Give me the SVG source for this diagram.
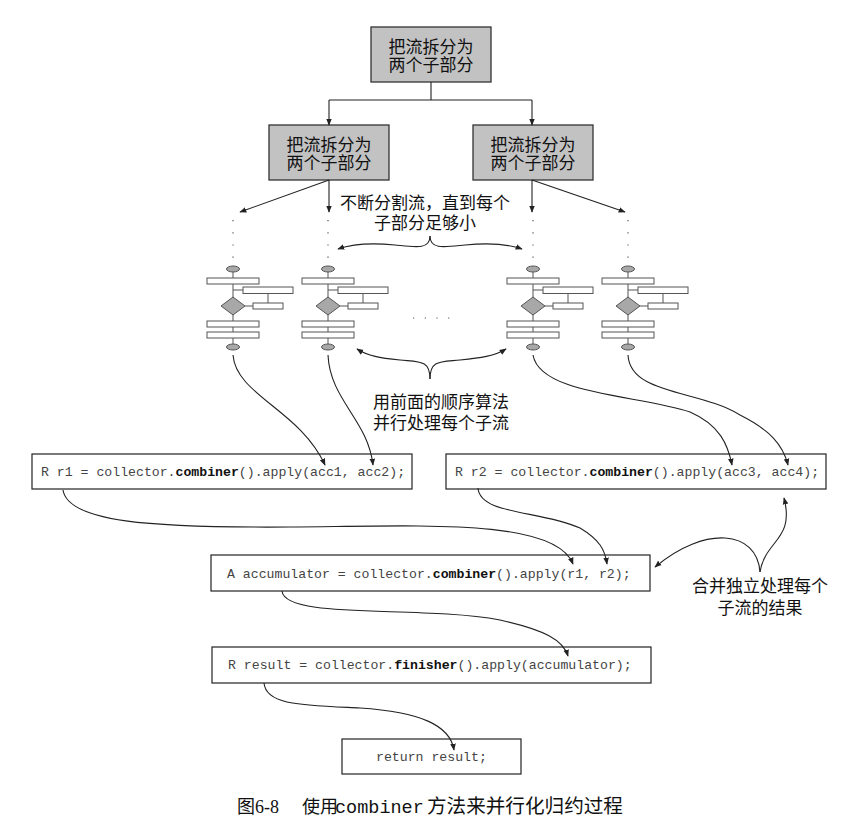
<svg xmlns="http://www.w3.org/2000/svg" xmlns:xlink="http://www.w3.org/1999/xlink" width="868" height="834" viewBox="0 0 868 834">
<style>
.bg{fill:#fff}
.gbox{fill:#c2c2c2;stroke:#333;stroke-width:1.3}
.cbox{fill:#fff;stroke:#222;stroke-width:1.2}
.cn{font-family:"Liberation Serif","Noto Sans CJK SC",serif;font-size:17px;fill:#111;text-anchor:middle}
.code{font-family:"Liberation Mono",monospace;font-size:13.2px;fill:#444}
.code tspan.b{font-weight:bold;fill:#111}
.ln{fill:none;stroke:#222;stroke-width:1.1}
.arr{fill:none;stroke:#222;stroke-width:1.1;marker-end:url(#ah)}
.dots{fill:none;stroke:#555;stroke-width:1.2;stroke-dasharray:1.2 11}
.fr{fill:#fff;stroke:#555;stroke-width:1}
.fg{fill:#a8a8a8;stroke:#555;stroke-width:1}
.fl{stroke:#555;stroke-width:1}
</style>
<defs>
<marker id="ah" viewBox="0 0 10 10" refX="9" refY="5" markerWidth="7" markerHeight="7" markerUnits="userSpaceOnUse" orient="auto">
<path d="M0,1 L10,5 L0,9 Z" fill="#222"/>
</marker>
<g id="flow">
<line class="fl" x1="0" y1="3" x2="0" y2="75"/>
<ellipse class="fg" cx="0" cy="0" rx="6.5" ry="3"/>
<rect class="fr" x="-26" y="9" width="52" height="6"/>
<line class="fl" x1="0" y1="21" x2="10" y2="21"/>
<line class="fl" x1="35" y1="24.5" x2="35" y2="34"/>
<rect class="fr" x="10" y="18" width="50" height="6.5"/>
<line class="fl" x1="12" y1="37" x2="20" y2="37"/>
<polygon class="fg" points="0,28 12,37 0,46 -12,37"/>
<rect class="fr" x="20" y="34" width="30" height="6"/>
<rect class="fr" x="-26" y="52" width="52" height="6"/>
<rect class="fr" x="-26" y="63" width="52" height="6"/>
<ellipse class="fg" cx="0" cy="78" rx="6.5" ry="3"/>
</g>
</defs>
<rect class="bg" x="0" y="0" width="868" height="834"/>

<g id="split-top">
<rect class="gbox" x="371" y="27" width="120" height="55"/>
<text class="cn" x="431" y="53">把流拆分为</text>
<text class="cn" x="431" y="71">两个子部分</text>
</g>
<g id="split-left">
<rect class="gbox" x="269" y="125" width="120" height="55"/>
<text class="cn" x="329" y="151">把流拆分为</text>
<text class="cn" x="329" y="169">两个子部分</text>
</g>
<g id="split-right">
<rect class="gbox" x="473" y="125" width="120" height="55"/>
<text class="cn" x="533" y="151">把流拆分为</text>
<text class="cn" x="533" y="169">两个子部分</text>
</g>

<g id="label-split">
<text class="cn" x="425" y="209">不断分割流，直到每个</text>
<text class="cn" x="425" y="229">子部分足够小</text>
</g>

<g id="flow1"><use xlink:href="#flow" href="#flow" x="233" y="269"/></g>
<g id="flow2"><use xlink:href="#flow" href="#flow" x="328" y="269"/></g>
<g id="flow3"><use xlink:href="#flow" href="#flow" x="533" y="269"/></g>
<g id="flow4"><use xlink:href="#flow" href="#flow" x="628" y="269"/></g>

<g id="label-seq">
<text class="cn" x="441" y="408">用前面的顺序算法</text>
<text class="cn" x="441" y="429">并行处理每个子流</text>
</g>

<g id="box-r1">
<rect class="cbox" x="32" y="454" width="380" height="35"/>
<text class="code" x="41" y="476">R r1 = collector.<tspan class="b">combiner</tspan>().apply(acc1, acc2);</text>
</g>
<g id="box-r2">
<rect class="cbox" x="446" y="454" width="380" height="35"/>
<text class="code" x="455" y="476">R r2 = collector.<tspan class="b">combiner</tspan>().apply(acc3, acc4);</text>
</g>
<g id="box-acc">
<rect class="cbox" x="211" y="555" width="439" height="36"/>
<text class="code" x="227" y="578">A accumulator = collector.<tspan class="b">combiner</tspan>().apply(r1, r2);</text>
</g>
<g id="label-merge">
<text class="cn" x="760" y="592">合并独立处理每个</text>
<text class="cn" x="760" y="614">子流的结果</text>
</g>
<g id="box-result">
<rect class="cbox" x="212" y="647" width="439" height="36"/>
<text class="code" x="228" y="669">R result = collector.<tspan class="b">finisher</tspan>().apply(accumulator);</text>
</g>
<g id="box-return">
<rect class="cbox" x="342" y="739" width="179" height="35"/>
<text class="code" x="376" y="761">return result;</text>
</g>

<g id="connectors">
<path class="ln" d="M431,82 V100 M329,100 H532"/>
<path class="arr" d="M329,100 V125"/>
<path class="arr" d="M532,100 V125"/>
<path class="arr" d="M329,180 L240,212"/>
<path class="arr" d="M329,180 V212"/>
<path class="arr" d="M532,180 V212"/>
<path class="arr" d="M532,180 L625,212"/>
<path class="dots" d="M233,220 V262 M328,220 V262 M533,220 V262 M628,220 V262"/>
<path class="dots" d="M413,318 H452" style="stroke-dasharray:1.2 10.5"/>
<path class="arr" d="M430,236 C430,250 415,247 395,245 C375,243 355,243 338,249"/>
<path class="arr" d="M430,236 C430,250 445,247 465,245 C485,243 505,243 522,249"/>
<path class="arr" d="M430,379 C430,360 420,362 400,360 C380,358 368,356 357,349"/>
<path class="arr" d="M430,379 C430,360 440,362 460,360 C480,358 495,356 506,349"/>
<path class="arr" d="M233,355 C236,395 300,410 325,465"/>
<path class="arr" d="M328,355 C330,400 368,420 373,465"/>
<path class="arr" d="M533,355 C540,395 640,395 690,412 C720,425 728,445 732,465"/>
<path class="arr" d="M628,355 C630,395 700,390 740,415 C770,430 783,445 788,465"/>
<path class="arr" d="M63,490 C68,522 150,528 290,527 C420,526 555,518 573,564"/>
<path class="arr" d="M478,488 C480,515 540,510 580,528 C600,540 605,550 607,564"/>
<path class="arr" d="M760,572 C757,530 705,525 655,567"/>
<path class="arr" d="M760,572 C765,540 795,540 784,498"/>
<path class="arr" d="M282,591 C285,620 420,605 500,620 C545,630 563,640 568,656"/>
<path class="arr" d="M264,683 C266,705 300,705 360,708 C420,712 450,725 454,750"/>
</g>

<g id="caption">
<text font-family="Liberation Serif,'Noto Sans CJK SC',serif" font-size="18" fill="#111" y="813"><tspan x="237">图6-8</tspan><tspan x="302">使用</tspan><tspan x="335" font-family="Liberation Mono,monospace" font-size="18.5">combiner</tspan><tspan x="427" font-size="19.6">方法来并行化归约过程</tspan></text>
</g>
</svg>
